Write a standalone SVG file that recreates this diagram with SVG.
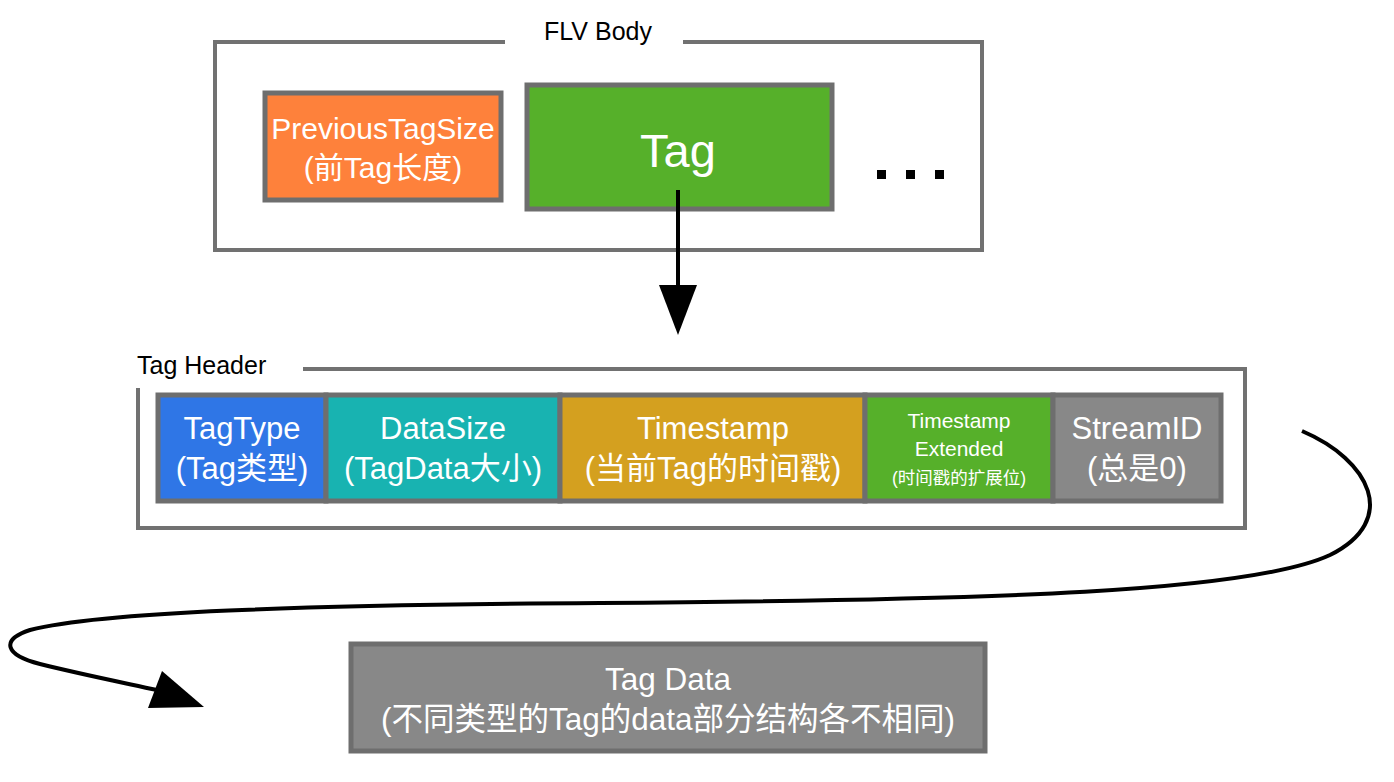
<svg xmlns="http://www.w3.org/2000/svg" width="1394" height="782" viewBox="0 0 1394 782">
<defs>
<style>
.frame{fill:none;stroke:#717171;stroke-width:4}
.box{stroke:#6E6E6E;stroke-width:5}
.t{font-family:"Liberation Sans","Noto Sans CJK SC",sans-serif;fill:#fff;text-anchor:middle}
.lbl{font-family:"Liberation Sans","Noto Sans CJK SC",sans-serif;fill:#000;font-size:25px}
.conn{fill:none;stroke:#000;stroke-width:4}
.head{fill:#000}
</style>
</defs>
<rect width="1394" height="782" fill="#fff"/>

<g id="flv-body">
<path class="frame" d="M505,42 H215 V250 H982 V42 H683"/>
<text class="lbl" x="598" y="40" text-anchor="middle">FLV Body</text>
</g>

<g id="prev-tag-size">
<rect class="box" x="265" y="93" width="236" height="107" fill="#FE813B"/>
<text class="t" x="383" y="139" font-size="30">PreviousTagSize</text>
<text class="t" x="383" y="178" font-size="30">(前Tag长度)</text>
</g>

<g id="tag">
<rect class="box" x="527" y="85" width="305" height="124" fill="#56B02A"/>
<text class="t" x="678" y="167" font-size="47">Tag</text>
</g>

<g id="ellipsis">
<rect x="877" y="170" width="9" height="9" fill="#000"/>
<rect x="906" y="170" width="9" height="9" fill="#000"/>
<rect x="935" y="170" width="9" height="9" fill="#000"/>
</g>

<g id="tag-header">
<path class="frame" d="M303,369 H1245 V528 H138 V388"/>
<text class="lbl" x="137" y="374">Tag Header</text>
</g>

<g id="tag-type">
<rect class="box" x="158" y="395" width="168" height="106" fill="#2F76E6"/>
<text class="t" x="242" y="439" font-size="31">TagType</text>
<text class="t" x="242" y="479" font-size="31">(Tag类型)</text>
</g>

<g id="data-size">
<rect class="box" x="326" y="395" width="234" height="106" fill="#18B3B1"/>
<text class="t" x="443" y="439" font-size="31">DataSize</text>
<text class="t" x="443" y="479" font-size="31">(TagData大小)</text>
</g>

<g id="timestamp">
<rect class="box" x="560" y="395" width="305" height="106" fill="#D4A01F"/>
<text class="t" x="713" y="439" font-size="31">Timestamp</text>
<text class="t" x="713" y="479" font-size="31">(当前Tag的时间戳)</text>
</g>

<g id="timestamp-ext">
<rect class="box" x="865" y="395" width="188" height="106" fill="#56B02A"/>
<text class="t" x="959" y="428" font-size="21">Timestamp</text>
<text class="t" x="959" y="456" font-size="21">Extended</text>
<text class="t" x="959" y="484" font-size="17.5">(时间戳的扩展位)</text>
</g>

<g id="stream-id">
<rect class="box" x="1053" y="395" width="168" height="106" fill="#888888"/>
<text class="t" x="1137" y="439" font-size="31">StreamID</text>
<text class="t" x="1137" y="479" font-size="31">(总是0)</text>
</g>

<g id="tag-data">
<rect class="box" x="351" y="644" width="634" height="107" fill="#888888"/>
<text class="t" x="668" y="690" font-size="31.5">Tag Data</text>
<text class="t" x="668" y="730" font-size="31.5">(不同类型的Tag的data部分结构各不相同)</text>
</g>

<g id="connectors">
<line class="conn" x1="678" y1="190" x2="678" y2="290"/>
<path class="head" d="M659,285 L697,285 L678,335 Z"/>
<path class="conn" d="M1302,431 C1370,460 1400,520 1330,555 C1250,592 1000,600 600,603 C300,605 100,612 30,630 C0,640 5,655 40,664 C80,674 120,682 157,690"/>
<path class="head" d="M162,671 L148,708 L204,707 Z"/>
</g>
</svg>
